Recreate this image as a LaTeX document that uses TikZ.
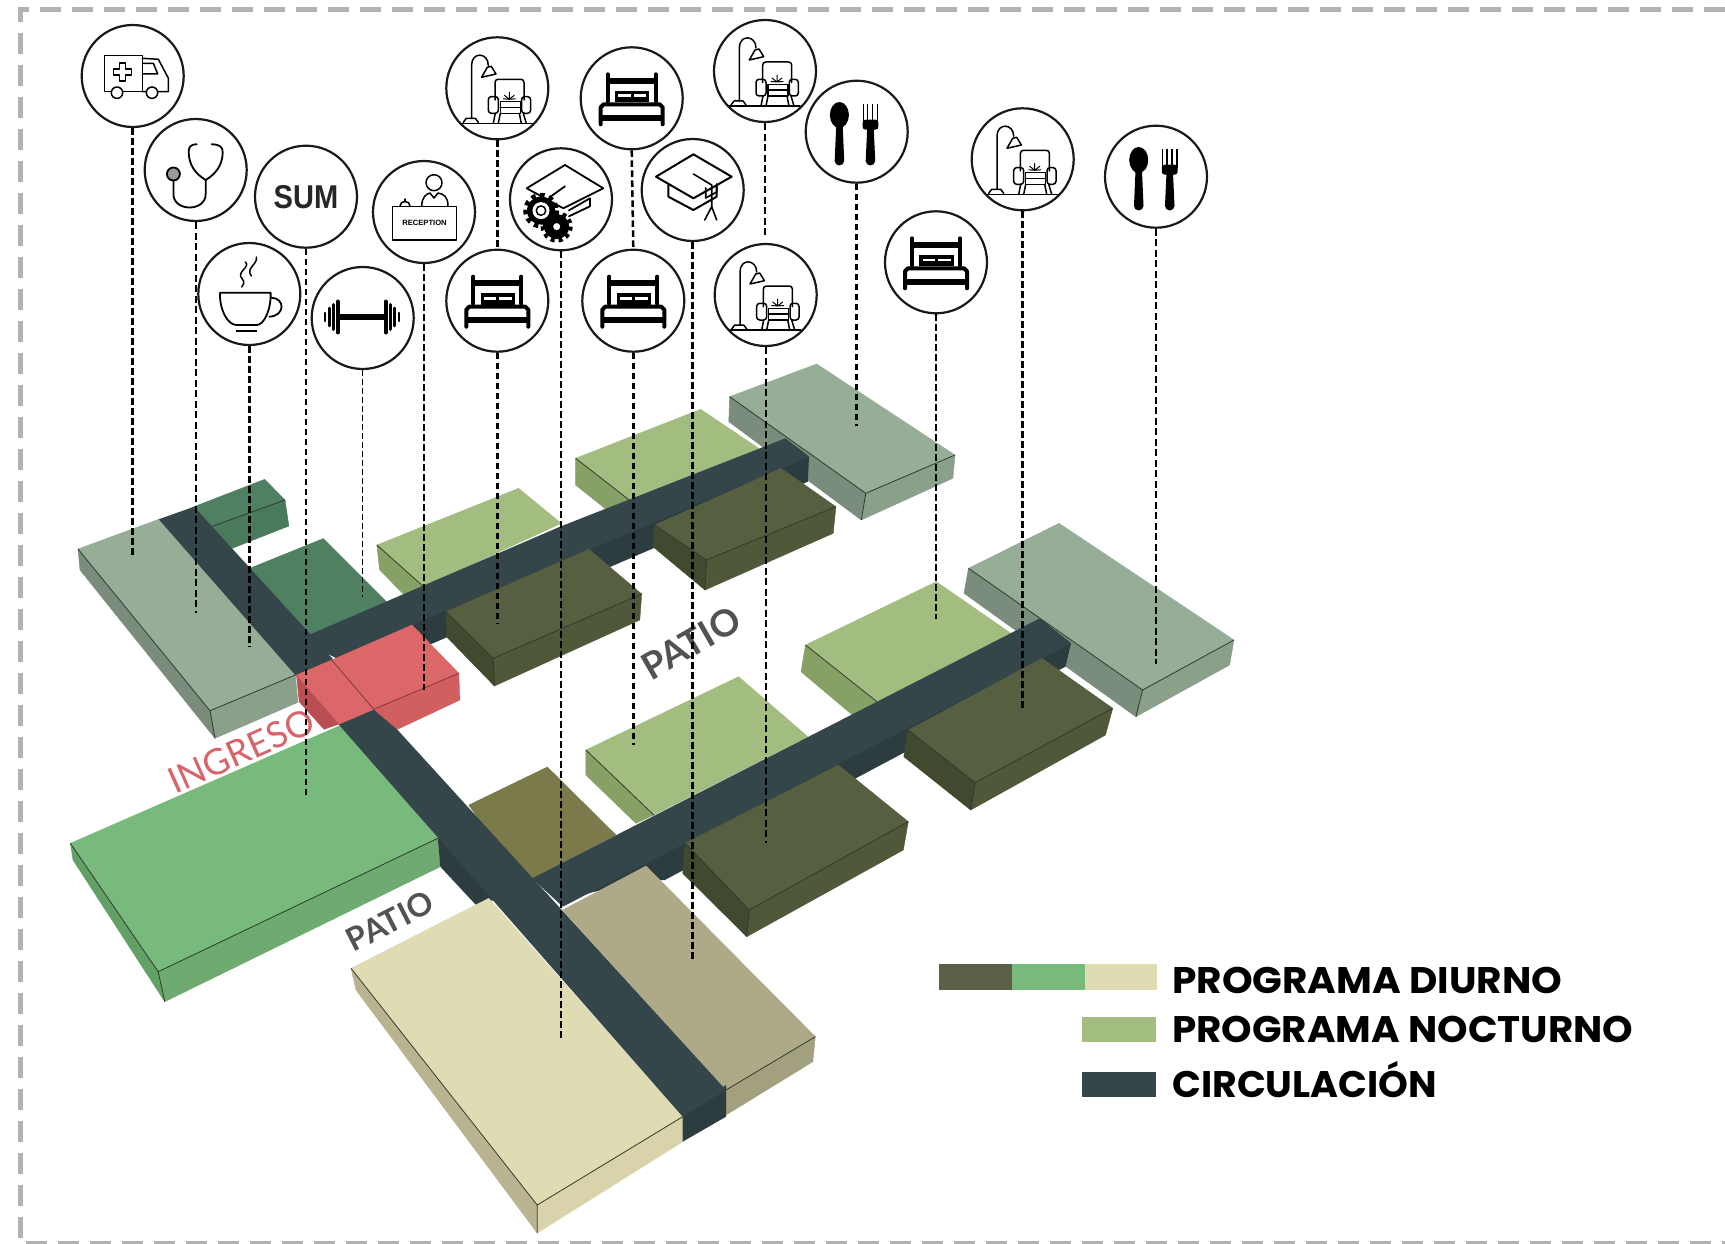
\documentclass[tikz,border=0pt]{standalone}
\usepackage{fontspec}
\setmainfont{Lato}
\newfontfamily\legfont[BoldFont={Poppins Bold}]{Poppins}
\newfontfamily\sumfont{Liberation Sans}
\definecolor{road}{HTML}{35464A}\definecolor{roadf}{HTML}{2D3C3F}
\definecolor{sage}{HTML}{96AD97}\definecolor{sagef}{HTML}{8AA08B}\definecolor{sagel}{HTML}{7A8C7B}
\definecolor{noc}{HTML}{A3BD80}\definecolor{nocl}{HTML}{87A066}
\definecolor{oli}{HTML}{565F40}\definecolor{olif}{HTML}{4F5839}\definecolor{olil}{HTML}{404A2E}
\definecolor{dgreen}{HTML}{4F8062}\definecolor{dgreenf}{HTML}{4A7A5C}
\definecolor{lgreen}{HTML}{78B97C}\definecolor{lgreenf}{HTML}{6FAA70}\definecolor{lgreenl}{HTML}{62A065}
\definecolor{redt}{HTML}{DB6768}\definecolor{redf}{HTML}{D25F60}\definecolor{redl}{HTML}{B94F52}
\definecolor{brown}{HTML}{7A7A4B}
\definecolor{cream}{HTML}{DFDBB2}\definecolor{creamf}{HTML}{D8D3AB}\definecolor{creaml}{HTML}{B9B48F}
\definecolor{khaki}{HTML}{AEAA88}\definecolor{khakif}{HTML}{A3A07F}
\definecolor{legoli}{HTML}{5A6045}\definecolor{edge}{HTML}{2E3A2C}
\tikzset{
  blk/.style={fill=#1,draw=#1,line width=.4pt,line join=round},
  crease/.style={draw=edge,line width=.8pt,line join=round},
  flat/.style={fill=#1},
  iconc/.style={circle,draw=black!90,line width=2.2pt,fill=white,minimum size=102pt,inner sep=0pt},
  lead/.style={draw=black,line width=2.5pt,dash pattern=on 6.5pt off 3.5pt},
  leadthin/.style={draw=black,line width=1.8pt,dash pattern=on 7pt off 3.5pt},
  leadfine/.style={draw=black,line width=1.1pt,dash pattern=on 6pt off 3pt},
  ic/.style={draw=black,line width=1.5pt,line join=round,line cap=round},
  patiotxt/.style={text=black!68},
  legtxt/.style={anchor=base west,inner sep=0pt,transform shape,font=\legfont\bfseries\fontsize{37}{37}\selectfont},
  pics/icoamb/.style={code={
    \draw[ic,fill=white] (-28.3,-20.3) rectangle (9.7,15.7);
    \draw[ic] (9.7,-17.7)--(25.7,-16.7)--(35.7,2.3)--(35.7,15.7)--(9.7,15.7);
    \draw[ic] (10.7,-12.7)--(20.7,-12.7)--(25,-2)--(10.7,-2);
    \draw[ic] (-13,-13)--(-7,-13)--(-7,-7)--(-1,-7)--(-1,-1)--(-7,-1)--(-7,5)--(-13,5)--(-13,-1)--(-19,-1)--(-19,-7)--(-13,-7)--cycle;
    \draw[ic,fill=white] (-15.7,16.7) circle (5.7) (19.3,16.7) circle (5.7);
  }},
  pics/icosteth/.style={code={
    \draw[draw=black,line width=1.8pt,fill=black!40] (-22.3,4) circle (6.5);
    \draw[ic,line width=1.8pt] (-22.3,11)--(-22.3,24) .. controls (-22.3,42) and (10,42) .. (10,24)--(10,10);
    \draw[ic,line width=1.8pt] (1,-25.7) .. controls (-6,-25.7) and (-7,-22) .. (-7,-18) .. controls (-7,-5) and (0,4) .. (10,10) .. controls (20,4) and (27,-5) .. (27,-18) .. controls (27,-22) and (25,-25.7) .. (16,-25.7);
  }},
  pics/icocup/.style={code={
    \draw[ic,line width=1.8pt] (-29.3,-1.3)--(21.3,-1.3) .. controls (22,15) and (15,31) .. (7.3,31)--(-12.7,31) .. controls (-22,31) and (-30,15) .. (-29.3,-1.3);
    \draw[ic,line width=1.8pt] (22,3.7) .. controls (36,4) and (36,22) .. (20,22.7);
    \draw[ic,line width=2.4pt,line cap=butt] (-13.7,36.7)--(8,36.7);
    \draw[ic] (-4,-32) .. controls (2,-27) and (-14,-22) .. (-7,-15) .. controls (-4,-12) and (-6,-9) .. (-7.5,-7);
    \draw[ic] (7,-37) .. controls (9,-30) and (-4,-26) .. (2,-18);
  }},
  pics/icodumb/.style={code={
    \draw[black,line width=6pt] (-23,-1)--(23,-1);
    \foreach \x/\h/\w in {-25/15.5/4,-29.5/12.5/3,-33.5/9/2.6,-37.5/4/2.2,23/15.5/4,27.5/12.5/3,31.5/9/2.6,36/4/2.2}
      \draw[black,line width=\w pt,line cap=round] (\x,-1-\h)--(\x,-1+\h);
  }},
  pics/icorec/.style={code={
    \draw[ic,fill=white] (-31.7,-5.3) rectangle (32.7,28);
    \node[inner sep=0pt,font=\sumfont\bfseries\fontsize{7.6}{8}\selectfont] (rtxt) at (0.5,11.3) {RECEPTION};
    \draw[ic] (10,-29.3) circle (8);
    \draw[ic] (-2.3,-6) .. controls (-2,-15) and (2,-18) .. (6,-19)--(10,-14)--(14,-19) .. controls (20,-18) and (24,-15) .. (24,-6);
    \draw[ic] (-24,-6) .. controls (-24,-12) and (-14,-12) .. (-14,-6);
    \draw[ic] (-19,-11)--(-19,-13);
  }},
  pics/icolamp/.style={code={
    \draw[ic] (-35.7,35)--(35,35);
    \draw[ic] (-25.7,30)--(-25.7,-23) .. controls (-25.7,-37) and (-9,-36) .. (-9,-23);
    \draw[ic] (-15.7,-11)--(-1.3,-14.3)--(-6,-22)--(-10,-21)--cycle;
    \draw[ic] (-34,34)--(-31,30)--(-22,30)--(-19,34);
    \draw[ic,rounded corners=3pt] (-2.3,11.7)--(-2.3,-9)--(26.7,-9)--(26.7,11.7);
    \draw[ic,rounded corners=3pt] (-9,8.3) rectangle (1,25);
    \draw[ic,rounded corners=3pt] (24.3,8.3) rectangle (33.3,25);
    \draw[ic] (3,13.3) rectangle (23,25) (3,19)--(23,19);
    \draw[ic,line width=1pt] (12,11)--(12,4) (12,11)--(7,7) (12,11)--(17,7) (12,11)--(6,10.5) (12,11)--(18,10.5);
    \draw[ic] (-2,25)--(-4,35) (26,25)--(29,35) (3,25)--(1,35) (22,25)--(24,35);
  }},
  pics/icobed/.style={code={
    \draw[black,line width=4pt,line cap=round] (-24,-24)--(-24,3) (24,-24)--(24,3);
    \draw[black,line width=6pt] (-24,-17.3)--(24,-17.3);
    \fill[black] (-16.7,-7.3) rectangle (17.7,4);
    \fill[white] (-13.5,-3.8) rectangle (14.5,-1);
    \fill[black] (-1,-4) rectangle (2,0);
    \draw[black,line width=4pt,line join=round,line cap=round] (-31,26)--(-31,9)--(-28,6)--(28,6)--(31,9)--(31,26);
    \draw[black,line width=6pt] (-31,19.3)--(31,19.3);
  }},
  pics/icogear/.style={code={
    \draw[ic,line width=1.8pt] (-34.3,-11)--(4,-34.3)--(42.3,-11)--(2.3,9)--cycle;
    \draw[ic,line width=1.8pt] (-10,-3)--(4,-13);
    \draw[ic,line width=1.8pt] (8,11)--(29,-1)--(29,7)--(8,17);
    \fill[black] (-4.3,27.3) circle (12.5);
    \draw[black,line width=4pt,dash pattern=on 4pt off 4pt] (-4.3,27.3) circle (14);
    \fill[white] (-4.3,27.3) circle (3.5);
    \fill[black] (-20,11.3) circle (14);
    \draw[black,line width=4.5pt,dash pattern=on 4.5pt off 4.5pt] (-20,11.3) circle (15.5);
    \fill[white] (-20,11.3) circle (8.5);
    \fill[black] (-20,11.3) circle (5.5);
    \fill[white] (-20,11.3) circle (3.8);
  }},
  pics/icocap/.style={code={
    \draw[ic,line width=2pt] (-36.7,-13.3)--(0.7,-35.7)--(39,-13.3)--(0.7,8.3)--cycle;
    \draw[ic,line width=2pt] (-24.3,-5)--(-24.3,6.7)--(0.7,20)--(24,6.7)--(24,-3.3);
    \draw[ic,line width=1.6pt] (0.7,-16)--(19,-5)--(19,16.7)--(12,30) (19,16.7)--(24,30) (13,-2)--(13,8)--(24,2)--(24,-6);
  }},
  pics/icofork/.style={code={
    \fill[black] (-17.3,-16.7) ellipse (9.5 and 13);
    \fill[black] (-20.5,-6)--(-14,-6)--(-12.5,29)--(-22,29)--cycle;
    \fill[black] (-17.3,29) circle (4.8);
    \draw[black,line width=1.4pt] (6.5,-27.5)--(6.5,-9) (11,-27.5)--(11,-9) (16,-27.5)--(16,-9) (21,-27.5)--(21,-9);
    \fill[black,rounded corners=3pt] (5.8,-12) rectangle (21.7,-2);
    \fill[black] (10.5,-4)--(17,-4)--(18.5,29)--(9,29)--cycle;
    \fill[black] (13.7,29) circle (4.8);
  }},
}
\begin{document}
\begin{tikzpicture}[x=1pt,y=-1pt]
\clip (0,0) rectangle (1725,1244);
\fill[white] (0,0) rectangle (1725,1244);
% frame
\draw[draw=black!30,line width=5pt,dash pattern=on 21pt off 11pt] (1725,10)--(20,10)--(20,1243.5)--(1725,1243.5);

% --- upper-left wing
\filldraw[blk=sagef] (210,710.7)--(295.4,675)--(298,702.3)--(215,738.3)--cycle;
\filldraw[blk=sagel] (78,549)--(210,710.7)--(215,738.3)--(80,570)--cycle;
\filldraw[blk=sage] (78,549)--(158.7,519.3)--(295.4,675)--(210,710.7)--cycle;
\draw[crease] (78,549)--(210,710.7)--(295.4,675) (210,710.7)--(215,738.3);
\filldraw[blk=dgreenf] (285,500)--(288.9,526)--(232.2,548.3)--(211.2,526.7)--cycle;
\filldraw[blk=dgreen] (190,510)--(194,506.7)--(264.7,479.3)--(285,500)--(211.2,526.7)--cycle;
\draw[crease] (211.2,526.7)--(285,500);
\fill[flat=dgreen] (240,572)--(323.3,538.3)--(388.4,603.3)--(311,638)--cycle;

% --- upper bar: night block, day block
\filldraw[blk=nocl] (376.9,545)--(379.6,570)--(404.4,595)--(423.6,586.7)--cycle;
\filldraw[blk=noc] (376.9,545)--(518.5,488.3)--(561.3,523.3)--(423.6,586.7)--cycle;
\draw[crease] (376.9,545)--(423.6,586.7);
\filldraw[blk=nocl] (575.6,458.3)--(575.6,485)--(606.9,510)--(631.4,501.7)--cycle;
\filldraw[blk=noc] (575.6,458.3)--(700.6,409.3)--(758.7,448.3)--(631.4,501.7)--cycle;
\draw[crease] (575.6,458.3)--(631.4,501.7);
\filldraw[blk=sagel] (729.6,396.7)--(865.8,493.3)--(861.3,520)--(728.8,421.7)--cycle;
\filldraw[blk=sagef] (865.8,493.3)--(955,455)--(952.9,478.3)--(861.3,520)--cycle;
\filldraw[blk=sage] (729.6,396.7)--(816.7,364)--(955,455)--(865.8,493.3)--cycle;
\draw[crease] (729.6,396.7)--(865.8,493.3)--(955,455) (865.8,493.3)--(861.3,520);
% road 2 (over the night blocks, ends under the sage top)
\fill[flat=roadf] (797,447.5)--(809,456.7)--(807.8,481.7)--(433,643.3)--(380,660)--(360,640)--cycle;
\fill[flat=road] (300,640)--(311,634)--(560,526.7)--(785.4,438.3)--(809,456.7)--(412,625)--(340,660)--cycle;
% day blocks in front of road 2
\filldraw[blk=olif] (641.7,594)--(639.8,620)--(494.4,686)--(493.2,658.3)--cycle;
\filldraw[blk=olil] (445.8,611.7)--(493.2,658.3)--(494.4,686)--(446.5,636.7)--cycle;
\filldraw[blk=oli] (445.8,611.7)--(588.9,549.3)--(641.7,594)--(493.2,658.3)--cycle;
\draw[crease] (445.8,611.7)--(493.2,658.3)--(641.7,594) (493.2,658.3)--(494.4,686);
\filldraw[blk=olif] (835.9,506.7)--(833.2,533.3)--(705,590)--(706.4,560)--cycle;
\filldraw[blk=olil] (654.6,525)--(706.4,560)--(705,590)--(652.9,546.7)--cycle;
\filldraw[blk=oli] (654.6,525)--(781,468.3)--(835.9,506.7)--(706.4,560)--cycle;
\draw[crease] (654.6,525)--(706.4,560)--(835.9,506.7) (706.4,560)--(705,590);

% --- lower bar
\fill[flat=brown] (468.4,805)--(547.4,766.7)--(616.3,835)--(532.2,878.3)--(500,850)--cycle;
\filldraw[blk=nocl] (585.9,750)--(585.9,775)--(635.9,823.3)--(653.8,815)--cycle;
\filldraw[blk=noc] (585.9,750)--(738.6,676.7)--(807.8,736.7)--(653.8,815)--cycle;
\draw[crease] (585.9,750)--(653.8,815);
\filldraw[blk=nocl] (805.5,645)--(801,671.7)--(852.4,715)--(877,701.7)--cycle;
\filldraw[blk=noc] (805.5,645)--(936.3,581.7)--(1010.9,633.3)--(877,701.7)--cycle;
\draw[crease] (805.5,645)--(877,701.7);
\filldraw[blk=sagel] (968.5,568.3)--(1142.6,690)--(1135.9,716.7)--(964,593.3)--cycle;
\filldraw[blk=sagef] (1142.6,690)--(1234,640)--(1229.6,665)--(1135.9,716.7)--cycle;
\filldraw[blk=sage] (968.5,568.3)--(1059,523.3)--(1234,640)--(1142.6,690)--cycle;
\draw[crease] (968.5,568.3)--(1142.6,690)--(1234,640) (1142.6,690)--(1135.9,716.7);
% road 3
\fill[flat=roadf] (1055,630.4)--(1071,643.3)--(1065.4,666.7)--(664.8,880)--(640,880)--(562.8,900)--cycle;
\fill[flat=road] (532,878.3)--(1039.9,618.3)--(1071,643.3)--(562.8,906.7)--cycle;
\filldraw[blk=olif] (908.3,821.7)--(903.3,850)--(746.7,936.7)--(749.3,910)--cycle;
\filldraw[blk=olil] (685.2,843.3)--(749.3,910)--(746.7,936.7)--(682.7,873.3)--cycle;
\filldraw[blk=oli] (685.2,843.3)--(838.3,765)--(908.3,821.7)--(749.3,910)--cycle;
\draw[crease] (685.2,843.3)--(749.3,910)--(908.3,821.7) (749.3,910)--(746.7,936.7);
\filldraw[blk=olif] (1112.7,708.3)--(1105.5,735)--(970.7,810)--(975.2,782.7)--cycle;
\filldraw[blk=olil] (908.2,730)--(975.2,782.7)--(970.7,810)--(903.8,756.7)--cycle;
\filldraw[blk=oli] (908.2,730)--(1042,658.3)--(1112.7,708.3)--(975.2,782.7)--cycle;
\draw[crease] (908.2,730)--(975.2,782.7)--(1112.7,708.3) (975.2,782.7)--(970.7,810);

% --- large green, cream, khaki
\filldraw[blk=lgreenl] (70.4,843.3)--(158.2,971.7)--(164.8,1001.7)--(73,860)--cycle;
\filldraw[blk=lgreenf] (158.2,971.7)--(437.8,838.3)--(440.3,866.7)--(164.8,1001.7)--cycle;
\filldraw[blk=lgreen] (70.4,843.3)--(341.3,725)--(437.8,838.3)--(158.2,971.7)--cycle;
\draw[crease] (70.4,843.3)--(158.2,971.7)--(437.8,838.3) (158.2,971.7)--(164.8,1001.7);
\fill[flat=roadf] (445,838.3)--(500,898.3)--(476,905)--(440.3,866.7)--(437.8,838.3)--cycle;
\filldraw[blk=creaml] (351,968.3)--(537.2,1205)--(537.2,1233)--(356,990)--cycle;
\filldraw[blk=creamf] (537.2,1205)--(682.7,1116.7)--(682.7,1141.7)--(537.2,1233)--cycle;
\filldraw[blk=cream] (351,968.3)--(488.8,898.3)--(682.7,1116.7)--(537.2,1205)--cycle;
\draw[crease] (351,968.3)--(537.2,1205)--(682.7,1116.7) (537.2,1205)--(537.2,1233);
\filldraw[blk=khakif] (815.3,1036.7)--(812.8,1061.7)--(726,1115)--(726,1090)--cycle;
\filldraw[blk=khaki] (562.8,910)--(646,866)--(815.3,1036.7)--(726,1090)--cycle;
\draw[crease] (726,1090)--(815.3,1036.7);

% --- road 1
\fill[flat=roadf] (682.7,1116.7)--(726,1085)--(726,1116.7)--(682.7,1141.7)--cycle;
\fill[flat=road] (158.7,519.3)--(194,506.7)--(726,1090)--(682.7,1116.7)--cycle;

% --- red entrance
\filldraw[blk=redl] (296.5,675)--(339.4,724)--(324,729.3)--(299.2,701.7)--cycle;
\filldraw[blk=redf] (373.8,709.3)--(458.8,673.3)--(459.9,700)--(397.5,729.3)--cycle;
\fill[flat=road] (341.3,725)--(372,708)--(397.5,735)--(365,752)--cycle;
\filldraw[blk=redt] (296.5,675)--(331.7,660)--(373.8,709.3)--(339.4,724)--cycle;
\filldraw[blk=redt] (331.7,660)--(412,625)--(458.8,673.3)--(373.8,709.3)--cycle;
\draw[crease,draw=redl!70!black] (331.7,660)--(373.8,709.3)--(458.8,673.3);

% --- labels on the plan
\node[rotate=24,text={rgb,255:red,217;green,99;blue,106},font=\fontsize{36}{36}\selectfont,inner sep=0pt] (ingreso) at (241,751) {INGRESO};
\node[rotate=30,patiotxt,font=\bfseries\fontsize{37}{37}\selectfont,inner sep=0pt] (patioa) at (691,643) {PATIO};
\node[rotate=27,patiotxt,font=\bfseries\fontsize{32}{32}\selectfont,inner sep=0pt] (patiob) at (390,921) {PATIO};

% --- icon circles
\node[iconc] (amb) at (132.7,76) {};
\node[iconc] (steth) at (195.7,170) {};
\node[iconc,font=\sumfont\bfseries\fontsize{33}{33}\selectfont,text=black!85] (sumc) at (306,196.7) {\scalebox{.88}[1]{SUM}};
\node[iconc] (cup) at (249.3,294) {};
\node[iconc] (dumb) at (362.7,318) {};
\node[iconc] (recep) at (424,212) {};
\node[iconc] (lampa) at (497.3,88.3) {};
\node[iconc] (beda) at (497.3,300.7) {};
\node[iconc] (gear) at (561,199.3) {};
\node[iconc] (bedb) at (631.7,98.3) {};
\node[iconc] (bedc) at (633.3,300.7) {};
\node[iconc] (gcap) at (692.7,190) {};
\node[iconc] (lampb) at (765,71) {};
\node[iconc] (lampc) at (765.7,295) {};
\node[iconc] (forka) at (856.7,131.7) {};
\node[iconc] (bedd) at (936,262.3) {};
\node[iconc] (lampd) at (1022.7,159.3) {};
\node[iconc] (forkb) at (1156,176.7) {};

\pic at (amb.center) {icoamb};
\pic at (steth.center) {icosteth};
\pic at (cup.center) {icocup};
\pic at (dumb.center) {icodumb};
\pic (rec) at (recep.center) {icorec};
\pic at (lampa.center) {icolamp};
\pic at (lampb.center) {icolamp};
\pic at (lampc.center) {icolamp};
\pic at (lampd.center) {icolamp};
\pic at (beda.center) {icobed};
\pic at (bedb.center) {icobed};
\pic at (bedc.center) {icobed};
\pic at (bedd.center) {icobed};
\pic at (gear.center) {icogear};
\pic at (gcap.center) {icocap};
\pic at (forka.center) {icofork};
\pic at (forkb.center) {icofork};

% --- leader ends
\coordinate (eamb) at (132.7,556.7);
\coordinate (esteth) at (195.7,612.7);
\coordinate (ecup) at (249.3,646.7);
\coordinate (esum) at (306,798.3);
\coordinate (edumb) at (362.7,596.7);
\coordinate (erecep) at (424,690);
\coordinate (ebeda) at (497.3,623.3);
\coordinate (egear) at (561,1038);
\coordinate (ebedc) at (633.3,745);
\coordinate (egcap) at (692.7,960);
\coordinate (elampb) at (765,238);
\coordinate (elampc) at (765.7,843);
\coordinate (eforka) at (856.7,426);
\coordinate (ebedd) at (936,619);
\coordinate (elampd) at (1022.7,710);
\coordinate (eforkb) at (1156,664);

\draw[lead] (amb.south)--(eamb);
\draw[leadthin] (steth.south)--(esteth);
\draw[lead] (cup.south)--(ecup);
\draw[lead] (sumc.south)--(esum);
\draw[leadfine] (dumb.south)--(edumb);
\draw[lead] (recep.south)--(erecep);
\draw[lead] (lampa.south)--(beda.north);
\draw[lead] (beda.south)--(ebeda);
\draw[lead] (gear.south)--(egear);
\draw[lead] (bedb.south)--(bedc.north);
\draw[lead,line width=3pt] (bedc.south)--(ebedc);
\draw[lead] (gcap.south)--(egcap);
\draw[leadthin] (lampb.south)--(elampb);
\draw[leadthin] (lampc.south)--(elampc);
\draw[lead] (forka.south)--(eforka);
\draw[lead] (bedd.south)--(ebedd);
\draw[lead] (lampd.south)--(elampd);
\draw[leadthin] (forkb.south)--(eforkb);

% --- legend
\fill[legoli] (938.8,964.3) rectangle (1011.5,990);
\fill[lgreen] (1011.5,964.3) rectangle (1084.7,990);
\fill[cream] (1084.7,964.3) rectangle (1157,990);
\fill[noc] (1081.8,1016.7) rectangle (1155.5,1042.3);
\fill[road] (1081.8,1071.7) rectangle (1155.5,1097.3);
\node[legtxt,xscale=1.055] (lega) at (1172,993) {PROGRAMA DIURNO};
\node[legtxt,xscale=1.05] (legb) at (1172,1042.5) {PROGRAMA NOCTURNO};
\node[legtxt,xscale=1.025] (legc) at (1172,1097) {CIRCULACIÓN};
\end{tikzpicture}
\end{document}
